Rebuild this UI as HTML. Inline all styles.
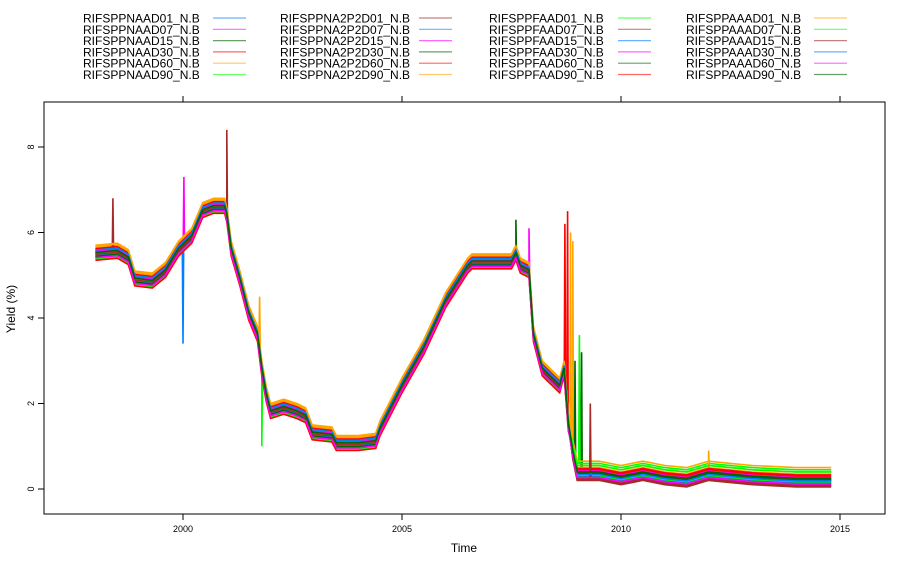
<!DOCTYPE html>
<html><head><meta charset="utf-8"><style>
body{margin:0;background:#fff;}
svg{display:block;font-family:"Liberation Sans",sans-serif;}
</style></head><body>
<svg id="c" width="898" height="565"></svg>
<script>
// ---- data ----
const seriesNames=["RIFSPPNAAD01_N.B","RIFSPPNAAD07_N.B","RIFSPPNAAD15_N.B","RIFSPPNAAD30_N.B","RIFSPPNAAD60_N.B","RIFSPPNAAD90_N.B",
"RIFSPPNA2P2D01_N.B","RIFSPPNA2P2D07_N.B","RIFSPPNA2P2D15_N.B","RIFSPPNA2P2D30_N.B","RIFSPPNA2P2D60_N.B","RIFSPPNA2P2D90_N.B",
"RIFSPPFAAD01_N.B","RIFSPPFAAD07_N.B","RIFSPPFAAD15_N.B","RIFSPPFAAD30_N.B","RIFSPPFAAD60_N.B","RIFSPPFAAD90_N.B",
"RIFSPPAAAD01_N.B","RIFSPPAAAD07_N.B","RIFSPPAAAD15_N.B","RIFSPPAAAD30_N.B","RIFSPPAAAD60_N.B","RIFSPPAAAD90_N.B"];
const palette=["#0080ff","#ff00ff","#006400","#ff0000","#ffa500","#00ff00","#a52a2a"];
const baseYears=[1998.0,1998.5,1998.75,1998.9,1999.3,1999.6,1999.9,2000.2,2000.45,2000.7,2000.95,2001.0,2001.1,2001.3,2001.5,2001.7,2001.8,2001.9,2002.0,2002.3,2002.6,2002.8,2002.95,2003.4,2003.5,2004.0,2004.4,2004.5,2005.0,2005.5,2006.0,2006.5,2006.6,2007.0,2007.5,2007.6,2007.7,2007.9,2008.0,2008.2,2008.3,2008.6,2008.7,2008.8,2008.9,2009.0,2009.5,2010.0,2010.5,2011.0,2011.5,2012.0,2012.5,2013.0,2014.0,2014.8];
const baseYield=[5.5,5.55,5.4,4.9,4.85,5.1,5.6,5.9,6.5,6.6,6.6,6.4,5.6,4.9,4.1,3.6,2.8,2.2,1.8,1.9,1.8,1.7,1.3,1.25,1.05,1.05,1.1,1.4,2.4,3.3,4.4,5.2,5.3,5.3,5.3,5.5,5.2,5.1,3.6,2.8,2.7,2.4,2.8,1.5,0.8,0.3,0.3,0.2,0.3,0.2,0.15,0.3,0.25,0.2,0.15,0.15];
const preOffset=[0.00,0.05,-0.05,0.10,0.15,-0.10,0.02,-0.02,0.08,-0.08,0.12,0.20,-0.12,0.04,-0.04,0.06,-0.06,-0.15,0.18,0.01,-0.01,0.09,-0.09,0.03];
const postOffset=[-0.05,0.05,0.00,0.15,0.25,0.30,-0.08,-0.02,0.10,0.05,0.08,0.20,0.02,-0.10,-0.04,0.12,0.06,0.18,0.35,0.25,-0.06,0.04,-0.03,0.10];
const spikeYear=[1998.4,2000.0,2000.02,2001.0,2001.75,2001.8,2007.6,2007.9,2008.72,2008.78,2008.85,2008.9,2009.05,2009.1,2012.0,2009.3,2008.95];
const spikeValue=[6.8,3.4,7.3,8.4,4.5,1.0,6.3,6.1,6.2,6.5,6.0,5.8,3.6,3.2,0.9,2.0,3.0];
const spikeSeries=[6,0,1,13,11,5,16,8,3,10,11,4,5,2,11,20,9];
const xTicks=[2000,2005,2010,2015];
const yTicks=[0,2,4,6,8];
// ---- scales ----
const L=44,R=885,T=102,B=514;
const xs=y=>183+(y-2000)*43.8;
const ys=v=>489-v*42.75;
const NS="http://www.w3.org/2000/svg";
const svg=document.getElementById('c');
function mk(t,a,p){const e=document.createElementNS(NS,t);for(const k in a)e.setAttribute(k,a[k]);(p||svg).appendChild(e);return e;}
function baseAt(yr){for(let j=1;j<baseYears.length;j++){if(yr<=baseYears[j]){const f=(yr-baseYears[j-1])/(baseYears[j]-baseYears[j-1]);return baseYield[j-1]+f*(baseYield[j]-baseYield[j-1]);}}return baseYield[baseYield.length-1];}
const g=mk('g',{});


seriesNames.forEach((n,i)=>{
  const off=yr=>(yr<2008.9?preOffset[i]:postOffset[i]);
  let pts=baseYears.map((yr,j)=>[yr,baseYield[j]+off(yr)]);
  spikeSeries.forEach((s,k)=>{if(s===i){const yr=spikeYear[k];
    pts.push([yr-0.015,baseAt(yr-0.015)+off(yr)]);pts.push([yr,spikeValue[k]]);pts.push([yr+0.015,baseAt(yr+0.015)+off(yr)]);}});
  pts.sort((a,b)=>a[0]-b[0]);
  const d=pts.map((p,j)=>(j?'L':'M')+xs(p[0]).toFixed(1)+','+ys(Math.max(0.02,p[1])).toFixed(1)).join('');
  const el=mk('path',{d:d,fill:'none',stroke:palette[i%7],'stroke-width':1.6},g);
  
  
});
const fr=mk('rect',{x:L,y:T,width:R-L,height:B-T,fill:'none',stroke:'#000','stroke-width':1});


xTicks.forEach(t=>{
  const x=xs(t);
  mk('line',{x1:x,x2:x,y1:B,y2:B+6,stroke:'#000'});
  mk('line',{x1:x,x2:x,y1:T,y2:T-6,stroke:'#000'});
  const tx=mk('text',{x:x,y:B+18,'font-size':9,'text-anchor':'middle'});tx.textContent=t;
  
  
});
yTicks.forEach(t=>{
  const y=ys(t);
  mk('line',{x1:L,x2:L-6,y1:y,y2:y,stroke:'#000'});
  const tx=mk('text',{x:0,y:0,'font-size':9,'text-anchor':'middle',transform:`translate(34,${y}) rotate(-90)`});tx.textContent=t;
  
  
});
let t1=mk('text',{x:464,y:552,'font-size':12,'text-anchor':'middle'});t1.textContent='Time';


let t2=mk('text',{x:0,y:0,'font-size':12,'text-anchor':'middle',transform:'translate(15,309) rotate(-90)'});t2.textContent='Yield (%)';


const colX=[83,280,489,686],lineX=[213,419,618,814];
seriesNames.forEach((n,i)=>{
  const c=Math.floor(i/6),r=i%6,y=18+r*11.3;
  const tx=mk('text',{x:colX[c],y:y+4.5,'font-size':12});tx.textContent=n;
  
  
  const ln=mk('line',{x1:lineX[c],x2:lineX[c]+33,y1:y,y2:y,stroke:palette[i%7],'stroke-opacity':0.6,'stroke-width':1.2});
  
  
});
</script>
</body></html>
